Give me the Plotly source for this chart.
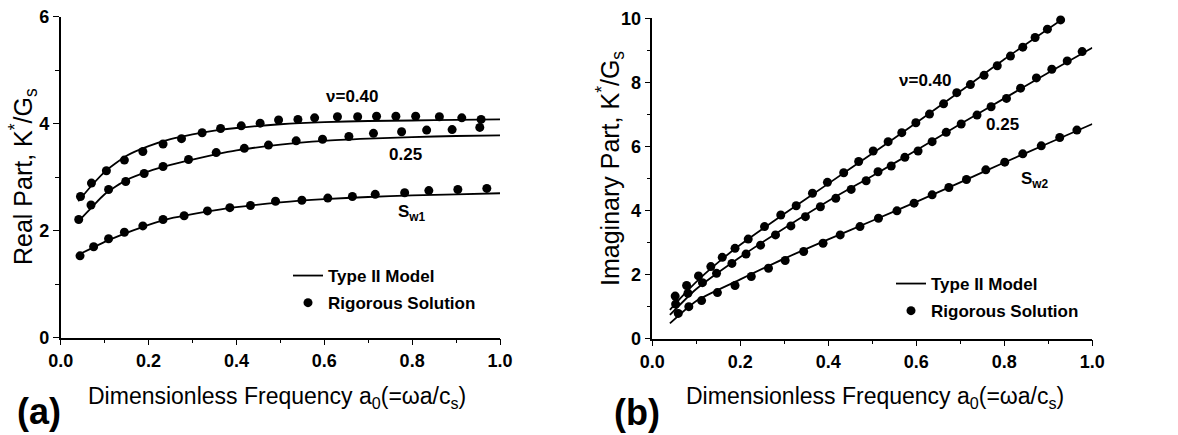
import plotly.graph_objects as go

W, H = 1178, 435

# ---------------- Panel (a): Real part ----------------
a_x_dots_40 = [0.045, 0.070, 0.104, 0.145, 0.187, 0.233, 0.275, 0.322, 0.364, 0.411, 0.454,
               0.496, 0.540, 0.578, 0.630, 0.676, 0.719, 0.763, 0.808, 0.862, 0.913, 0.957]
a_y_dots_40 = [2.64, 2.89, 3.12, 3.32, 3.48, 3.62, 3.72, 3.83, 3.91, 3.96, 4.01,
               4.07, 4.08, 4.11, 4.13, 4.13, 4.14, 4.14, 4.14, 4.13, 4.11, 4.08]
a_x_dots_25 = [0.041, 0.069, 0.109, 0.148, 0.190, 0.233, 0.291, 0.354, 0.418, 0.473, 0.536,
               0.596, 0.656, 0.712, 0.776, 0.833, 0.891, 0.954]
a_y_dots_25 = [2.21, 2.48, 2.77, 2.92, 3.07, 3.20, 3.33, 3.46, 3.54, 3.60, 3.68,
               3.71, 3.76, 3.82, 3.85, 3.88, 3.89, 3.93]
a_x_dots_sw = [0.044, 0.075, 0.109, 0.145, 0.187, 0.233, 0.281, 0.334, 0.385, 0.432, 0.489,
               0.549, 0.608, 0.664, 0.716, 0.783, 0.838, 0.904, 0.970]
a_y_dots_sw = [1.53, 1.70, 1.85, 1.97, 2.09, 2.21, 2.28, 2.37, 2.43, 2.47, 2.55,
               2.57, 2.61, 2.64, 2.68, 2.71, 2.75, 2.77, 2.79]

a_x_line = [0.04, 0.07, 0.10, 0.15, 0.20, 0.25, 0.30, 0.35, 0.40, 0.50, 0.60, 0.70, 0.80, 0.90, 1.00]
a_y_line_40 = [2.55, 2.84, 3.10, 3.40, 3.58, 3.71, 3.80, 3.87, 3.92, 3.99, 4.03, 4.05, 4.06, 4.07, 4.08]
a_y_line_25 = [2.17, 2.43, 2.68, 2.95, 3.11, 3.23, 3.33, 3.42, 3.50, 3.61, 3.68, 3.72, 3.75, 3.77, 3.78]
a_y_line_sw = [1.55, 1.67, 1.79, 1.96, 2.11, 2.23, 2.31, 2.38, 2.44, 2.53, 2.59, 2.63, 2.66, 2.68, 2.70]

# ---------------- Panel (b): Imaginary part ----------------
b_x_dots_40 = [0.052, 0.078, 0.105, 0.133, 0.159, 0.188, 0.218, 0.255, 0.292, 0.327, 0.364,
               0.398, 0.435, 0.469, 0.502, 0.536, 0.567, 0.599, 0.630, 0.662, 0.692, 0.723,
               0.754, 0.784, 0.814, 0.842, 0.870, 0.898, 0.928]
b_y_dots_40 = [1.33, 1.66, 1.96, 2.25, 2.54, 2.82, 3.11, 3.50, 3.86, 4.15, 4.54,
               4.88, 5.18, 5.53, 5.86, 6.15, 6.43, 6.74, 7.01, 7.33, 7.68, 7.93,
               8.22, 8.52, 8.82, 9.10, 9.40, 9.66, 9.95]
b_x_dots_25 = [0.053, 0.081, 0.114, 0.146, 0.181, 0.213, 0.246, 0.280, 0.315, 0.348, 0.382,
               0.417, 0.452, 0.486, 0.513, 0.543, 0.574, 0.604, 0.636, 0.668, 0.702, 0.738,
               0.770, 0.805, 0.837, 0.873, 0.908, 0.943, 0.977]
b_y_dots_25 = [1.08, 1.42, 1.75, 2.04, 2.35, 2.64, 2.92, 3.24, 3.52, 3.81, 4.12,
               4.38, 4.66, 4.93, 5.21, 5.39, 5.66, 5.86, 6.15, 6.44, 6.70, 6.98,
               7.24, 7.50, 7.82, 8.14, 8.41, 8.67, 8.96]
b_x_dots_sw = [0.059, 0.083, 0.112, 0.148, 0.188, 0.225, 0.264, 0.302, 0.344, 0.388, 0.427,
               0.472, 0.514, 0.556, 0.595, 0.636, 0.674, 0.714, 0.758, 0.801, 0.842, 0.884,
               0.926, 0.965]
b_y_dots_sw = [0.79, 1.00, 1.19, 1.44, 1.66, 1.94, 2.20, 2.44, 2.72, 2.98, 3.24,
               3.50, 3.76, 3.99, 4.23, 4.49, 4.72, 4.97, 5.27, 5.51, 5.77, 6.02,
               6.28, 6.51]

b_x_line_40 = [0.04, 0.08, 0.12, 0.16, 0.20, 0.30, 0.40, 0.50, 0.60, 0.70, 0.80, 0.935]
b_y_line_40 = [0.90, 1.50, 2.03, 2.50, 2.93, 3.90, 4.84, 5.78, 6.74, 7.72, 8.72, 10.0]
b_x_line = [0.04, 0.10, 0.20, 0.30, 0.40, 0.50, 0.60, 0.70, 0.80, 0.90, 1.00]
b_y_line_25 = [0.74, 1.55, 2.55, 3.45, 4.30, 5.08, 5.88, 6.70, 7.50, 8.30, 9.08]
b_y_line_sw = [0.48, 1.18, 1.85, 2.50, 3.10, 3.68, 4.27, 4.88, 5.50, 6.10, 6.70]

x_ticks = [0.0, 0.2, 0.4, 0.6, 0.8, 1.0]
x_tick_labels = ["0.0", "0.2", "0.4", "0.6", "0.8", "1.0"]

FONT = "Liberation Sans"
BLACK = "#000000"

fig = go.Figure()

def add_line(x, y, xa, ya, legend, show):
    fig.add_trace(go.Scatter(x=x, y=y, mode="lines", line=dict(color=BLACK, width=1.8, shape="spline", smoothing=0.6),
                             xaxis=xa, yaxis=ya, name="Type II Model", legend=legend,
                             showlegend=show, legendgroup="a" + legend, cliponaxis=True))

def add_dots(x, y, xa, ya, legend, show):
    fig.add_trace(go.Scatter(x=x, y=y, mode="markers", marker=dict(color=BLACK, size=9),
                             xaxis=xa, yaxis=ya, name="Rigorous Solution", legend=legend,
                             showlegend=show, legendgroup="b" + legend, cliponaxis=False))

add_line(a_x_line, a_y_line_40, "x", "y", "legend", True)
add_line(a_x_line, a_y_line_25, "x", "y", "legend", False)
add_line(a_x_line, a_y_line_sw, "x", "y", "legend", False)
add_dots(a_x_dots_40, a_y_dots_40, "x", "y", "legend", True)
add_dots(a_x_dots_25, a_y_dots_25, "x", "y", "legend", False)
add_dots(a_x_dots_sw, a_y_dots_sw, "x", "y", "legend", False)

add_line(b_x_line_40, b_y_line_40, "x2", "y2", "legend2", True)
add_line(b_x_line, b_y_line_25, "x2", "y2", "legend2", False)
add_line(b_x_line, b_y_line_sw, "x2", "y2", "legend2", False)
add_dots(b_x_dots_40, b_y_dots_40, "x2", "y2", "legend2", True)
add_dots(b_x_dots_25, b_y_dots_25, "x2", "y2", "legend2", False)
add_dots(b_x_dots_sw, b_y_dots_sw, "x2", "y2", "legend2", False)

tickfont = dict(family=FONT, size=18, color=BLACK, weight="bold")

def xaxis_cfg(domain, anchor):
    return dict(domain=domain, anchor=anchor, range=[0, 1], tickvals=x_ticks, ticktext=x_tick_labels,
                showline=True, linecolor=BLACK, linewidth=1.5, ticks="outside", ticklen=6, tickwidth=1.3,
                tickcolor=BLACK, showgrid=False, zeroline=False, tickfont=tickfont, automargin=False,
                minor=dict(tickvals=[0.1, 0.3, 0.5, 0.7, 0.9], ticks="outside", ticklen=4, tickwidth=1.2,
                           tickcolor=BLACK, showgrid=False))

def yaxis_cfg(domain, anchor, rng, major, minor_vals):
    return dict(domain=domain, anchor=anchor, range=rng, tickvals=major, ticktext=[str(v) for v in major],
                showline=True, linecolor=BLACK, linewidth=1.5, ticks="outside", ticklen=6, tickwidth=1.3,
                tickcolor=BLACK, showgrid=False, zeroline=False, tickfont=tickfont, automargin=False,
                minor=dict(tickvals=minor_vals, ticks="outside", ticklen=4, tickwidth=1.2,
                           tickcolor=BLACK, showgrid=False))

a_y_ticks = [0, 2, 4, 6]
b_y_ticks = [0, 2, 4, 6, 8, 10]

legend_font = dict(family=FONT, size=17, color=BLACK, weight="bold")
fig.update_layout(
    width=W, height=H,
    margin=dict(l=0, r=0, t=0, b=0),
    paper_bgcolor="white", plot_bgcolor="white",
    xaxis=xaxis_cfg([60.7 / W, 500 / W], "y"),
    yaxis=yaxis_cfg([1 - 337.7 / H, 1 - 16.7 / H], "x", [0, 6], a_y_ticks, [1, 3, 5]),
    xaxis2=xaxis_cfg([652.3 / W, 1092.3 / W], "y2"),
    yaxis2=yaxis_cfg([1 - 338.7 / H, 1 - 18.3 / H], "x2", [0, 10], b_y_ticks, [1, 3, 5, 7, 9]),
    legend=dict(x=(330 - 42) / W, y=1 - 258 / H, xanchor="left", yanchor="top",
                font=legend_font, bgcolor="rgba(0,0,0,0)", traceorder="grouped", tracegroupgap=2),
    legend2=dict(x=(933 - 42) / W, y=1 - 266 / H, xanchor="left", yanchor="top",
                 font=legend_font, bgcolor="rgba(0,0,0,0)", traceorder="grouped", tracegroupgap=2),
    showlegend=True,
)

ann_font = dict(family=FONT, size=17, color=BLACK, weight="bold")
xtitle_font = dict(family=FONT, size=23, color=BLACK)
ytitle_font = dict(family=FONT, size=25, color=BLACK)
panel_font = dict(family=FONT, size=36, color=BLACK, weight="bold")

def ann(x, y, text, xref="paper", yref="paper", font=ann_font, angle=0):
    return dict(x=x, y=y, xref=xref, yref=yref, text=text, showarrow=False, font=font,
                xanchor="center", yanchor="middle", textangle=angle)

annotations = [
    # curve labels panel (a)
    ann(0.662, 4.50, "ν=0.40", "x", "y"),
    ann(0.786, 3.43, "0.25", "x", "y"),
    ann(0.800, 2.33, "S<sub>w1</sub>", "x", "y"),
    # curve labels panel (b)
    ann(0.619, 8.07, "ν=0.40", "x2", "y2"),
    ann(0.797, 6.70, "0.25", "x2", "y2"),
    ann(0.869, 4.95, "S<sub>w2</sub>", "x2", "y2"),
    # axis titles
    ann(23 / W, 1 - 177 / H, "Real Part, K<sup>*</sup>/G<sub>s</sub>", font=ytitle_font, angle=-90),
    ann(610 / W, 1 - 169 / H, "Imaginary Part, K<sup>*</sup>/G<sub>s</sub>", font=ytitle_font, angle=-90),
    ann(277 / W, 1 - 397 / H, "Dimensionless Frequency a<sub>0</sub>(=ωa/c<sub>s</sub>)", font=xtitle_font),
    ann(875 / W, 1 - 397 / H, "Dimensionless Frequency a<sub>0</sub>(=ωa/c<sub>s</sub>)", font=xtitle_font),
    # panel labels
    ann(39 / W, 1 - 411 / H, "(a)", font=panel_font),
    ann(637 / W, 1 - 412 / H, "(b)", font=panel_font),
]
fig.update_layout(annotations=annotations)

fig.write_html("out.html")
